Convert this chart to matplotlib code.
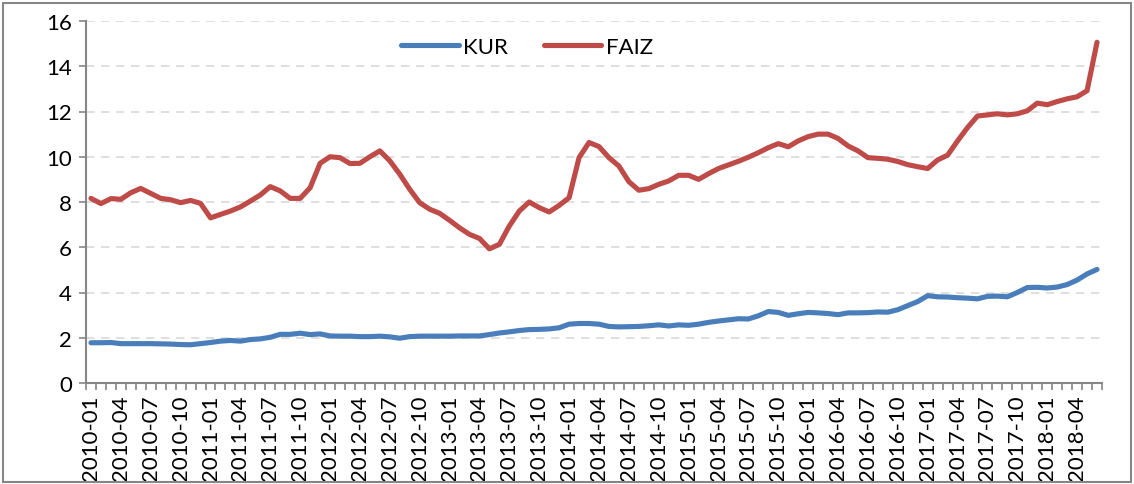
import matplotlib
matplotlib.use("Agg")
import matplotlib.pyplot as plt
from matplotlib.patches import Rectangle
import numpy as np
import pandas as pd

# monthly series, 2010-01 .. 2018-06
months = pd.period_range("2010-01", "2018-06", freq="M").strftime("%Y-%m").tolist()

kur = [1.78, 1.78, 1.79, 1.74, 1.74, 1.74, 1.74, 1.73, 1.72, 1.70, 1.69, 1.74,
       1.79, 1.85, 1.88, 1.85, 1.92, 1.95, 2.02, 2.15, 2.15, 2.20, 2.14, 2.17,
       2.08, 2.07, 2.07, 2.05, 2.05, 2.07, 2.04, 1.98, 2.05, 2.07, 2.07, 2.07,
       2.07, 2.08, 2.08, 2.08, 2.14, 2.21, 2.26, 2.32, 2.36, 2.37, 2.39, 2.44,
       2.60, 2.63, 2.63, 2.60, 2.50, 2.48, 2.49, 2.50, 2.53, 2.57, 2.52, 2.57,
       2.55, 2.60, 2.68, 2.74, 2.79, 2.84, 2.83, 2.97, 3.16, 3.12, 2.99, 3.06,
       3.12, 3.10, 3.07, 3.02, 3.10, 3.10, 3.11, 3.14, 3.13, 3.24, 3.42, 3.60,
       3.86, 3.81, 3.80, 3.77, 3.75, 3.72, 3.83, 3.84, 3.81, 4.00, 4.22, 4.23,
       4.20, 4.24, 4.35, 4.55, 4.82, 5.02]

faiz = [8.16, 7.93, 8.15, 8.12, 8.41, 8.60, 8.38, 8.16, 8.10, 7.97, 8.07, 7.94,
        7.30, 7.45, 7.60, 7.78, 8.04, 8.31, 8.68, 8.49, 8.16, 8.16, 8.63, 9.71,
        10.00, 9.96, 9.70, 9.71, 10.00, 10.26, 9.82, 9.23, 8.56, 7.97, 7.68, 7.50,
        7.19, 6.86, 6.57, 6.39, 5.93, 6.13, 6.94, 7.60, 8.00, 7.75, 7.56, 7.85,
        8.19, 9.96, 10.63, 10.45, 9.96, 9.59, 8.90, 8.52, 8.59, 8.78, 8.93, 9.18,
        9.18, 9.00, 9.25, 9.48, 9.64, 9.80, 9.98, 10.18, 10.40, 10.58, 10.44, 10.70,
        10.89, 11.00, 11.00, 10.81, 10.48, 10.26, 9.96, 9.93, 9.89, 9.79, 9.65, 9.56,
        9.48, 9.86, 10.07, 10.70, 11.29, 11.80, 11.85, 11.90, 11.85, 11.90, 12.03, 12.37,
        12.30, 12.44, 12.56, 12.65, 12.92, 15.06]

plt.rcParams['font.family'] = ['Lato', 'DejaVu Sans']

W, H = 1134, 485
fig = plt.figure(figsize=(W / 100, H / 100), dpi=100)
ax = fig.add_axes([86 / W, 1 - 384 / H, (1102 - 86) / W, (384 - 22) / H])

x = np.arange(len(months))
ax.plot(x, kur, color='#4A7EBB', lw=3.7, label='KUR', solid_capstyle='round', solid_joinstyle='round')
ax.plot(x, faiz, color='#BE4B48', lw=3.7, label='FAIZ', solid_capstyle='round', solid_joinstyle='round')

ax.set_xlim(-0.5, len(months) - 0.5)
ax.set_ylim(0, 16)
ax.set_yticks(range(0, 17, 2))
ax.yaxis.grid(True, color='#D9D9D9', ls=(0, (5, 4)), lw=1.2)
ax.set_axisbelow(True)

ax.set_xticks(x[::3])
ax.set_xticklabels(months[::3], rotation=90)
ax.set_xticks(np.arange(-0.5, len(months)), minor=True)

gray = '#868686'
for s in ['top', 'right']:
    ax.spines[s].set_visible(False)
for s in ['left', 'bottom']:
    ax.spines[s].set_color(gray)
    ax.spines[s].set_linewidth(1.5)
ax.tick_params(axis='y', direction='out', length=5, width=1.2, color=gray, labelsize=16, pad=5)
ax.tick_params(axis='x', which='major', length=0, labelsize=16, pad=8)
ax.tick_params(axis='x', which='minor', direction='out', length=5, width=1.2, color=gray)

ax.legend(loc='center', bbox_to_anchor=(527 / W, 1 - 48 / H), bbox_transform=fig.transFigure,
          ncol=2, frameon=False, fontsize=16, handlelength=2.6, handletextpad=0.2,
          columnspacing=1.6)

fig.patches.append(Rectangle((3 / W, 2 / H), (W - 6) / W, (H - 6) / H, transform=fig.transFigure,
                             fill=False, edgecolor=gray, lw=1.5))

fig.savefig('out.png', dpi=100)
